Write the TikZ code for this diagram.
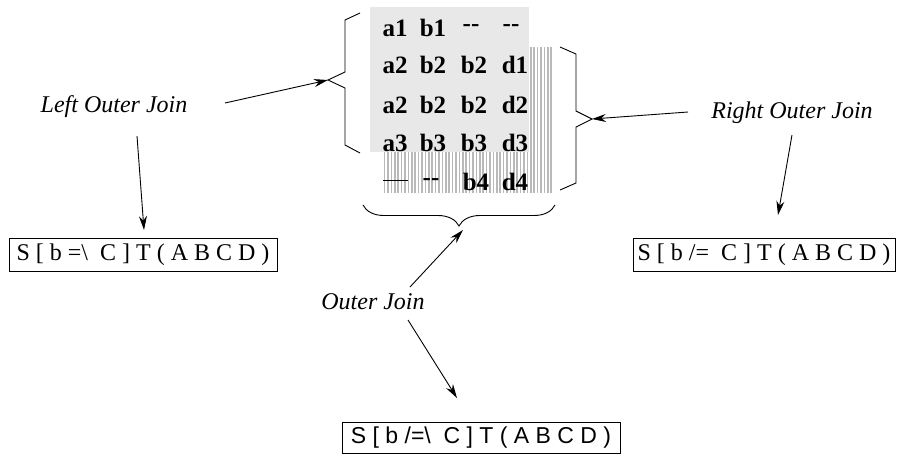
\documentclass[tikz,border=0pt]{standalone}
\usepackage{fontspec}
\setmainfont{Liberation Serif}
\setsansfont{Liberation Sans}
\usetikzlibrary{arrows.meta,decorations.pathreplacing}

\tikzset{
    cell/.style={font=\fontsize{25}{25}\selectfont\bfseries, inner sep=0pt},
    joinlabel/.style={font=\fontsize{24}{24}\selectfont\itshape, inner sep=0pt},
    exprbox/.style={draw, line width=0.9pt, font=\fontsize{24}{24}\selectfont,
        minimum height=33pt, inner xsep=4pt},
    arr/.style={-{Stealth[length=14pt,width=8pt]}, line width=0.9pt},
    bracket/.style={line width=0.9pt},
    stripe/.style={gray!55, line width=1.6pt},
}

\begin{document}
\begin{tikzpicture}[x=1pt,y=-1pt]
                \useasboundingbox (0,0) rectangle (897,456);

                % striped right part, grey left part on top
                \foreach \x in {384.5,387.9,...,553}
                    \draw [stripe] (\x,47) -- (\x,193);
                \fill [black!9] (370,7) rectangle (529,152);

                % the joined rows
                \foreach \t [count=\i] in {a1,b1,{-}{-},{-}{-}}
                    \node [cell] (ra\i) at ({\i==1 ? 395 : (\i==2 ? 433 : (\i==3 ? 471 : 511))},28) {\t};
                \foreach \t [count=\i] in {a2,b2,b2,d1}
                    \node [cell] (rb\i) at ({\i==1 ? 395 : (\i==2 ? 433 : (\i==3 ? 474 : 515))},65) {\t};
                \foreach \t [count=\i] in {a2,b2,b2,d2}
                    \node [cell] (rc\i) at ({\i==1 ? 395 : (\i==2 ? 433 : (\i==3 ? 474 : 515))},105) {\t};
                \foreach \t [count=\i] in {a3,b3,b3,d3}
                    \node [cell] (rd\i) at ({\i==1 ? 395 : (\i==2 ? 433 : (\i==3 ? 474 : 515))},143) {\t};
                \draw [line width=0.6pt] (383,180) -- (408,180);
                \foreach \t [count=\i] in {{-}{-},b4,d4}
                    \node [cell] (re\i) at ({\i==1 ? 431 : (\i==2 ? 476 : 515)},182) {\t};

                % braces
                \draw [bracket] (360,13) -- (345,20) -- (345,72) -- (328,80)
                    coordinate (lbrace) -- (345,88) -- (345,145) -- (360,153);
                \draw [bracket] (560,47) -- (576,54) -- (576,111) -- (592,119)
                    coordinate (rbrace) -- (576,127) -- (576,183) -- (560,190);
                \draw [bracket, decorate, decoration={brace, mirror, amplitude=21pt}]
                    (363,205) -- (555,205);
                \coordinate (bbrace) at (463,230);

                % labels
                \node [joinlabel] (loj) at (114,107) {Left Outer Join};
                \node [joinlabel] (roj) at (792,113) {Right Outer Join};
                \node [joinlabel] (oj) at (373,302) {Outer Join};

                % expressions
                \node [exprbox, minimum width=268pt] (lexpr) at (143,255)
                    {S [ b =\textbackslash\ \ C ] T ( A B C D )};
                \node [exprbox, minimum width=262pt] (rexpr) at (764,255)
                    {S [ b /= \ C ] T ( A B C D )};
                \node [exprbox, minimum width=278pt, minimum height=31pt,
                    font=\sffamily\fontsize{23}{23}\selectfont] (oexpr) at (481,438)
                    {S [ b /=\textbackslash\ \ C ] T ( A B C D )};

                % arrows
                \coordinate (lojR) at (225,103);
                \coordinate (lojB) at (137,136);
                \coordinate (rojL) at (688,112);
                \coordinate (rojB) at (792,135);
                \coordinate (ojT) at (410,287);
                \coordinate (ojB) at (408,320);
                \coordinate (lexprIn) at (144,230);
                \coordinate (rexprIn) at (778,215);
                \coordinate (oexprIn) at (457,398);
                \draw [arr] (lojR) -- (lbrace);
                \draw [arr] (lojB) -- (lexprIn);
                \draw [arr] (rojL) -- (rbrace);
                \draw [arr] (rojB) -- (rexprIn);
                \draw [arr] (ojT) -- (bbrace);
                \draw [arr] (ojB) -- (oexprIn);
            \end{tikzpicture}
\end{document}
